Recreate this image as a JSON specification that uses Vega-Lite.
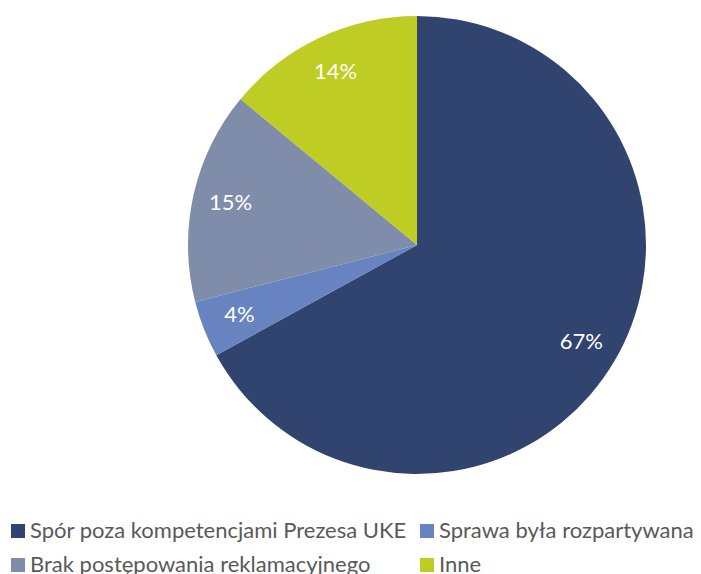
{
  "$schema": "https://vega.github.io/schema/vega-lite/v6.json",
  "autosize": "none",
  "width": 458,
  "height": 458,
  "padding": {"left": 188, "top": 16, "right": 55, "bottom": 100},
  "background": "white",
  "data": {"values": [
    {"kategoria": "Spór poza kompetencjami Prezesa UKE", "udzial": 67, "kolejnosc": 1, "etykieta": "67%"},
    {"kategoria": "Sprawa była rozpartywana", "udzial": 4, "kolejnosc": 2, "etykieta": "4%"},
    {"kategoria": "Brak postępowania reklamacyjnego", "udzial": 15, "kolejnosc": 3, "etykieta": "15%"},
    {"kategoria": "Inne", "udzial": 14, "kolejnosc": 4, "etykieta": "14%"}
  ]},
  "encoding": {
    "theta": {"field": "udzial", "type": "quantitative", "stack": true},
    "order": {"field": "kolejnosc", "type": "quantitative"}
  },
  "layer": [
    {
      "mark": {"type": "arc", "stroke": null},
      "encoding": {
        "color": {
          "field": "kategoria",
          "type": "nominal",
          "sort": ["Spór poza kompetencjami Prezesa UKE", "Sprawa była rozpartywana", "Brak postępowania reklamacyjnego", "Inne"],
          "scale": {
            "domain": ["Spór poza kompetencjami Prezesa UKE", "Sprawa była rozpartywana", "Brak postępowania reklamacyjnego", "Inne"],
            "range": ["#314470", "#6783C0", "#7F8DAA", "#BFCC24"]
          },
          "legend": {
            "title": null,
            "orient": "none",
            "legendX": -181,
            "legendY": 504,
            "columns": 2,
            "direction": "horizontal",
            "symbolType": "square",
            "symbolSize": 196,
            "symbolStrokeWidth": 0,
            "labelFont": "Lato",
            "labelFontSize": 22,
            "labelColor": "#595959",
            "labelLimit": 500,
            "labelOffset": 1,
            "columnPadding": 9,
            "rowPadding": 12
          }
        }
      }
    },
    {
      "mark": {"type": "text", "radius": 191, "color": "white", "font": "Lato", "fontSize": 22},
      "encoding": {"text": {"field": "etykieta", "type": "nominal"}}
    }
  ]
}
